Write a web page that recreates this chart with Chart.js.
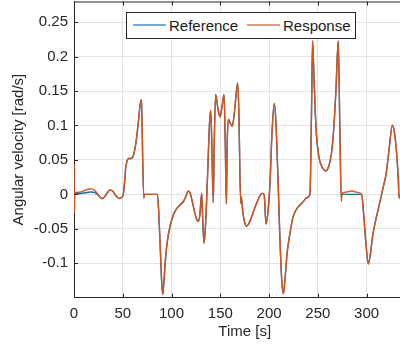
<!DOCTYPE html>
<html>
<head>
<meta charset="utf-8">
<script src="https://cdn.jsdelivr.net/npm/chart.js@4/dist/chart.umd.min.js"></script>
<style>
  html, body { margin: 0; padding: 0; background: #fff; overflow: hidden; width: 400px; height: 345px; }
  #wrap { position: absolute; left: 0; top: 0; width: 416px; height: 345px; }
  #legend { position: absolute; left: 126px; top: 12px; width: 228px; height: 25px; border: 1px solid #262626; background: #fff;
            font-family: "Liberation Sans", Arial, sans-serif; font-size: 15px; line-height: 25px; color: #1a1a1a; }
  #legend .ln { position: absolute; top: 11px; height: 2px; width: 33px; }
  #legend .tx { position: absolute; top: 0; white-space: nowrap; }
</style>
</head>
<body>
<div id="wrap">
  <canvas id="c" width="416" height="345"></canvas>
  <div id="legend">
    <div class="ln" style="left:6px; background:#6aaee0"></div>
    <div class="tx" style="left:42px">Reference</div>
    <div class="ln" style="left:120px; background:#eb9a78"></div>
    <div class="tx" style="left:156px">Response</div>
  </div>
</div>
<script>
// ---- data ----
const seriesNames = ["Reference", "Response"];
const timeS = [
  0, 0.4, 0.8, 5, 10, 15, 18, 21, 24, 26, 28.5, 31, 34, 37, 40, 43, 46.5, 49, 50.5, 52,
  53, 54.5, 56, 58.5, 61, 63.5, 66, 68.7, 69.3, 71.5, 72.5, 85.5, 87, 88.5, 90, 91, 92, 94, 96, 98.4,
  101.8, 105, 108.7, 112, 115, 117.2, 119, 121.5, 124, 126, 127.4, 129, 130.9, 131.5, 133.3, 135, 137, 139, 140.1, 141,
  142.8, 143.6, 145.2, 147.5, 149.7, 152, 153.8, 155, 156.2, 157, 158.2, 160, 162.3, 164.5, 167.8, 169, 170.9, 171.5, 173, 175,
  177, 180, 184, 188, 191, 193, 195, 196.8, 198.5, 201, 203, 205.3, 207, 209.4, 211, 213, 214.6, 216.5, 218.5, 221.4,
  224.5, 228.3, 232, 235, 238.5, 241.9, 243.5, 244.6, 246, 247.5, 248.7, 250.5, 252.2, 255, 258, 261, 263.9, 266, 268.5, 270.9,
  272.5, 274, 274.7, 280, 284.7, 290, 294.9, 297, 299.5, 301.7, 304, 306, 308.6, 313, 317.1, 320, 323, 326.3, 328.5, 330.8,
  332.5, 333.2, 334
];
const referenceVel = [
  0, 0, 0.0005, 0.001, 0.002, 0.003, 0.0035, 0.003, 0.000, -0.003, -0.006, -0.004, 0.002, 0.0065, 0.004, -0.002, -0.006, -0.004, 0.000, 0.02,
  0.038, 0.049, 0.052, 0.052, 0.057, 0.075, 0.105, 0.137, 0.130, -0.003, 0.000, 0.000, -0.03, -0.08, -0.13, -0.145, -0.13, -0.09, -0.065, -0.047,
  -0.03, -0.021, -0.0155, -0.0107, -0.002, 0.005, 0.002, -0.012, -0.028, -0.037, -0.039, -0.030, 0.0015, -0.02, -0.071, -0.04, 0.03, 0.105, 0.122, 0.09,
  -0.012, 0.06, 0.145, 0.125, 0.1125, 0.13, 0.145, 0.08, -0.014, 0.07, 0.1087, 0.104, 0.099, 0.12, 0.1617, 0.12, -0.013, -0.003, -0.025, -0.041,
  -0.046, -0.040, -0.025, -0.010, -0.001, 0.0015, -0.001, -0.043, -0.030, 0.018, 0.09, 0.132, 0.105, 0.011, -0.06, -0.125, -0.1445, -0.12, -0.085, -0.0565,
  -0.033, -0.021, -0.015, -0.0105, -0.005, 0.000, 0.12, 0.2226, 0.17, 0.115, 0.0835, 0.06, 0.047, 0.038, 0.034, 0.040, 0.059, 0.09, 0.15, 0.2226,
  0.1, -0.005, 0.000, 0.000, 0.000, 0.000, 0.000, -0.03, -0.075, -0.101, -0.085, -0.062, -0.042, -0.015, 0.011, 0.03, 0.065, 0.1004, 0.09, 0.059,
  0.02, -0.004, 0.000
];
const responseVel = [
  0.045, -0.027, 0.002, 0.003, 0.005, 0.0075, 0.008, 0.006, 0.001, -0.003, -0.006, -0.004, 0.002, 0.0065, 0.004, -0.002, -0.006, -0.004, 0.000, 0.02,
  0.038, 0.049, 0.052, 0.052, 0.057, 0.075, 0.105, 0.137, 0.130, -0.006, 0.000, 0.000, -0.03, -0.08, -0.13, -0.145, -0.13, -0.09, -0.065, -0.047,
  -0.03, -0.021, -0.0155, -0.0107, -0.002, 0.005, 0.002, -0.012, -0.028, -0.037, -0.039, -0.030, 0.0015, -0.02, -0.071, -0.04, 0.03, 0.105, 0.122, 0.09,
  -0.012, 0.06, 0.145, 0.125, 0.1125, 0.13, 0.145, 0.08, -0.014, 0.07, 0.1087, 0.104, 0.099, 0.12, 0.1617, 0.12, -0.013, -0.003, -0.025, -0.041,
  -0.046, -0.040, -0.025, -0.010, -0.001, 0.0015, -0.001, -0.043, -0.030, 0.018, 0.09, 0.132, 0.105, 0.011, -0.06, -0.125, -0.1445, -0.12, -0.085, -0.0565,
  -0.033, -0.021, -0.015, -0.0105, -0.005, 0.000, 0.12, 0.2226, 0.17, 0.115, 0.0835, 0.06, 0.047, 0.038, 0.034, 0.040, 0.059, 0.09, 0.15, 0.2226,
  0.1, -0.0107, 0.0015, 0.0035, 0.005, 0.003, 0.000, -0.03, -0.075, -0.101, -0.085, -0.062, -0.042, -0.015, 0.011, 0.03, 0.065, 0.1004, 0.09, 0.059,
  0.02, -0.006, 0.000
];
const xAxisTitle = "Time [s]";
const yAxisTitle = "Angular velocity [rad/s]";
const xRange = [0, 350];
const yRange = [-0.15, 0.28];

// ---- chart ----
const FONT = '"Liberation Sans", Arial, Helvetica, sans-serif';
const AXIS = '#262626';

const boxTicks = {
  id: 'boxTicks',
  afterDraw(chart) {
    const {ctx, chartArea: a, scales: {x, y}} = chart;
    ctx.save();
    ctx.strokeStyle = AXIS;
    ctx.lineWidth = 1;
    ctx.beginPath();
    ctx.moveTo(a.left, a.top + 0.5); ctx.lineTo(a.right, a.top + 0.5);
    ctx.stroke();
    const L = 4;
    ctx.beginPath();
    x.ticks.forEach(t => {
      const px = Math.round(x.getPixelForValue(t.value)) + 0.5;
      ctx.moveTo(px, a.bottom); ctx.lineTo(px, a.bottom - L);
      ctx.moveTo(px, a.top); ctx.lineTo(px, a.top + L);
    });
    y.ticks.forEach(t => {
      const py = Math.round(y.getPixelForValue(t.value)) + 0.5;
      ctx.moveTo(a.left, py); ctx.lineTo(a.left + L, py);
    });
    ctx.stroke();
    ctx.restore();
  }
};

const noPad = s => { s.paddingTop = 0; s.paddingBottom = 0; s.paddingLeft = 0; s.paddingRight = 0; };
const mk = vals => timeS.map((t, i) => ({x: t, y: vals[i]}));

new Chart(document.getElementById('c'), {
  type: 'line',
  data: {
    datasets: [
      { label: seriesNames[0], data: mk(referenceVel), borderColor: '#0072BD', borderWidth: 1.4,
        pointRadius: 0, cubicInterpolationMode: 'monotone', fill: false, order: 2 },
      { label: seriesNames[1], data: mk(responseVel), borderColor: '#D95319', borderWidth: 1.4,
        pointRadius: 0, cubicInterpolationMode: 'monotone', fill: false, order: 1 }
    ]
  },
  options: {
    responsive: false,
    animation: false,
    events: [],
    layout: { padding: { top: 1.5, right: 0.6, left: 0, bottom: 0 } },
    plugins: { legend: { display: false }, tooltip: { enabled: false } },
    scales: {
      x: {
        type: 'linear', min: xRange[0], max: xRange[1],
        afterFit(s) { s.height = 47.3; noPad(s); },
        ticks: { stepSize: 50, padding: 7, color: AXIS, font: { family: FONT, size: 15, lineHeight: 1.2 },
                 autoSkip: false, maxRotation: 0, includeBounds: false },
        grid: { color: '#e3e3e3', lineWidth: 1, drawTicks: false },
        border: { color: AXIS, width: 1 },
        title: { display: true, text: xAxisTitle, color: AXIS, padding: { top: 0, bottom: 4.6 },
                 font: { family: FONT, size: 15, lineHeight: 1.2 } }
      },
      y: {
        type: 'linear', min: yRange[0], max: yRange[1],
        afterFit(s) { s.width = 74; noPad(s); },
        ticks: { stepSize: 0.05, padding: 6, color: AXIS, includeBounds: false,
                 font: { family: FONT, size: 15, lineHeight: 1.2 },
                 callback: v => String(Number(v.toFixed(2))) },
        grid: { color: '#e3e3e3', lineWidth: 1, drawTicks: false },
        border: { color: AXIS, width: 1 },
        title: { display: true, text: yAxisTitle, color: AXIS, padding: { top: 9.5, bottom: 0 },
                 font: { family: FONT, size: 15, lineHeight: 1.2 } }
      }
    }
  },
  plugins: [boxTicks]
});
</script>
</body>
</html>
